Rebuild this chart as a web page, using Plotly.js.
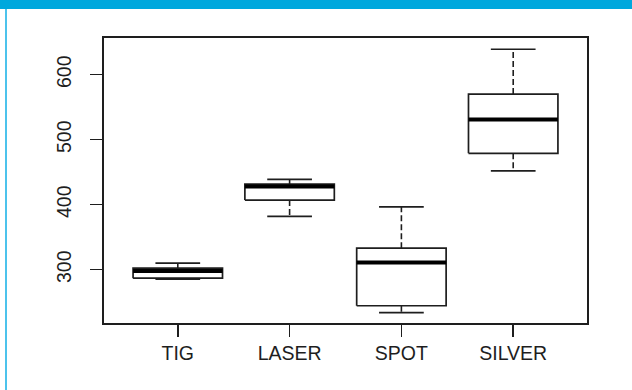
<!DOCTYPE html>
<html>
<head>
<meta charset="utf-8">
<script src="https://cdn.plot.ly/plotly-3.0.1.min.js"></script>
<style>
  html, body { margin: 0; padding: 0; background: #fff; }
  #wrap { position: relative; width: 632px; height: 390px; overflow: hidden; background: #fff; }
  #chart { position: absolute; left: 0; top: 0; width: 632px; height: 390px; }
  #topband { position: absolute; left: 0; top: 0; width: 632px; height: 9px; background: #00a8dd; z-index: 5; }
  #leftband { position: absolute; left: 5px; top: 9px; width: 2px; height: 381px; background: #4cc3ec; z-index: 5; }
</style>
</head>
<body>
<div id="wrap">
  <div id="chart"></div>
  <div id="topband"></div>
  <div id="leftband"></div>
</div>
<script>
// Data
var categories   = ['TIG', 'LASER', 'SPOT', 'SILVER'];
var lowerWhisker = [285.5, 382, 234, 452];
var q1           = [287, 407, 244.5, 479];
var median       = [298, 428, 311, 531];
var q3           = [302.5, 431.5, 333, 570];
var upperWhisker = [310, 439, 396.5, 639];
var yTicks       = [300, 400, 500, 600];

var halfBox = 0.4, halfCap = 0.2;
var lineColor = '#1e1e1e';

var wx = [], wy = [], bx = [], by = [], cx = [], cy = [], mx = [], my = [];
for (var i = 0; i < categories.length; i++) {
  var p = i + 1;
  wx.push(p, p, null, p, p, null);
  wy.push(q3[i], upperWhisker[i], null, q1[i], lowerWhisker[i], null);
  bx.push(p - halfBox, p + halfBox, p + halfBox, p - halfBox, p - halfBox, null);
  by.push(q1[i], q1[i], q3[i], q3[i], q1[i], null);
  cx.push(p - halfCap, p + halfCap, null, p - halfCap, p + halfCap, null);
  cy.push(upperWhisker[i], upperWhisker[i], null, lowerWhisker[i], lowerWhisker[i], null);
  mx.push(p - halfBox, p + halfBox, null);
  my.push(median[i], median[i], null);
}

var traces = [
  { type: 'scatter', mode: 'lines', x: wx, y: wy, hoverinfo: 'skip',
    line: { color: lineColor, width: 1.6, dash: '6px,3px' }, showlegend: false },
  { type: 'scatter', mode: 'lines', x: bx, y: by, hoverinfo: 'skip', fill: 'toself', fillcolor: '#ffffff',
    line: { color: lineColor, width: 1.7 }, showlegend: false },
  { type: 'scatter', mode: 'lines', x: cx, y: cy, hoverinfo: 'skip',
    line: { color: lineColor, width: 1.7 }, showlegend: false },
  { type: 'scatter', mode: 'lines', x: mx, y: my, hoverinfo: 'skip',
    line: { color: '#000000', width: 4 }, showlegend: false }
];

var layout = {
  width: 632, height: 390,
  margin: { l: 104, r: 45, t: 38, b: 67, pad: 0 },
  paper_bgcolor: '#ffffff', plot_bgcolor: '#ffffff',
  font: { family: '"Liberation Sans", Arial, Helvetica, sans-serif', size: 19, color: '#1e1e1e' },
  showlegend: false,
  xaxis: {
    range: [0.34, 4.66], tickmode: 'array',
    tickvals: categories.map(function (c, i) { return i + 1; }), ticktext: categories,
    showgrid: false, zeroline: false, showline: true, mirror: true,
    linecolor: lineColor, linewidth: 1.6,
    ticks: 'outside', ticklen: 12, tickwidth: 1.6, tickcolor: lineColor,
    tickfont: { size: 19.5 }
  },
  yaxis: {
    range: [218, 656.3], tickmode: 'array', tickvals: yTicks,
    ticktext: yTicks.map(String), tickangle: -90, ticklabelstandoff: 12,
    showgrid: false, zeroline: false, showline: true, mirror: true,
    linecolor: lineColor, linewidth: 1.6,
    ticks: 'outside', ticklen: 12, tickwidth: 1.6, tickcolor: lineColor,
    tickfont: { size: 19.5 }
  }
};

Plotly.newPlot('chart', traces, layout, { staticPlot: true, displayModeBar: false });
</script>
</body>
</html>
